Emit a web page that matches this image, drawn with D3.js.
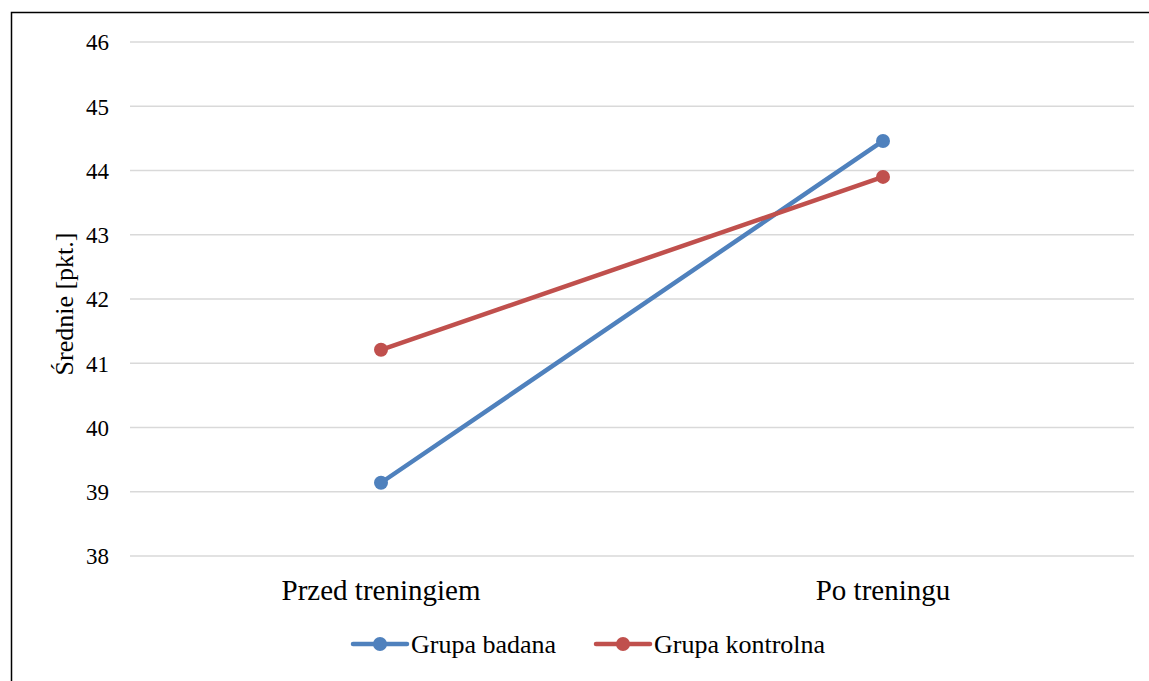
<!DOCTYPE html>
<html>
<head>
<meta charset="utf-8">
<script src="https://cdn.jsdelivr.net/npm/d3@7"></script>
<style>
  body { margin: 0; background: #fff; overflow: hidden; }
  svg { display: block; }
</style>
</head>
<body>
<svg id="chart" width="1149" height="681"></svg>
<script>
// chart data
const categories = ["Przed treningiem", "Po treningu"];
const seriesNames = ["Grupa badana", "Grupa kontrolna"];
const badana = [39.14, 44.46];
const kontrolna = [41.21, 43.9];
const yTicks = [38, 39, 40, 41, 42, 43, 44, 45, 46];
const colors = ["#4f81bd", "#c0504d"];

const FONT = '"Liberation Serif"';

const svg = d3.select("#chart");

// frame around the chart: only the left and top edges fall inside the picture
svg.append("path")
  .attr("d", "M11.5,681V12.5H1149")
  .attr("fill", "none").attr("stroke", "#000").attr("stroke-width", 1.5);

const plot = { left: 130, right: 1134, top: 42, bottom: 556 };

const x = d3.scaleBand().domain(categories).range([plot.left, plot.right]);
const y = d3.scaleLinear().domain([38, 46]).range([plot.bottom, plot.top]);

// gridlines
svg.append("g")
  .selectAll("line")
  .data(yTicks)
  .enter()
  .append("line")
  .attr("x1", plot.left).attr("x2", plot.right)
  .attr("y1", d => y(d)).attr("y2", d => y(d))
  .attr("stroke", "#d9d9d9").attr("stroke-width", 1.5);

// y axis labels
const yAxis = d3.axisLeft(y).tickValues(yTicks).tickSize(0).tickPadding(21);
svg.append("g")
  .attr("transform", `translate(${plot.left},0)`)
  .call(yAxis)
  .attr("font-family", null)
  .call(g => g.select(".domain").remove())
  .selectAll("text")
  .attr("dy", "0.34em")
  .style("font-family", FONT)
  .style("font-size", "23px")
  .style("fill", "#000");

// x axis labels
const xAxis = d3.axisBottom(x).tickSize(0).tickPadding(0);
svg.append("g")
  .attr("transform", `translate(0,${plot.bottom})`)
  .call(xAxis)
  .attr("font-family", null)
  .call(g => g.select(".domain").remove())
  .selectAll("text")
  .attr("y", 44).attr("dy", null)
  .style("font-family", FONT)
  .style("font-size", "29px")
  .style("fill", "#000");

// y axis title
svg.append("text")
  .attr("transform", "translate(73,304) rotate(-90)")
  .attr("text-anchor", "middle")
  .style("font-family", FONT)
  .style("font-size", "26px")
  .text("Średnie [pkt.]");

// series
const series = [badana, kontrolna];
const line = d3.line()
  .x((d, i) => x(categories[i]) + x.bandwidth() / 2)
  .y(d => y(d));

series.forEach((vals, s) => {
  svg.append("path")
    .datum(vals)
    .attr("d", line)
    .attr("fill", "none")
    .attr("stroke", colors[s])
    .attr("stroke-width", 4.5)
    .attr("stroke-linecap", "round");

  svg.append("g")
    .selectAll("circle")
    .data(vals)
    .enter()
    .append("circle")
    .attr("cx", (d, i) => x(categories[i]) + x.bandwidth() / 2)
    .attr("cy", d => y(d))
    .attr("r", 7)
    .attr("fill", colors[s]);
});

// legend
const legendX = [353, 596];
const legend = svg.append("g");
seriesNames.forEach((name, s) => {
  const g = legend.append("g").attr("transform", `translate(${legendX[s]},644)`);
  g.append("line")
    .attr("x1", 0).attr("x2", 54)
    .attr("stroke", colors[s]).attr("stroke-width", 4.5)
    .attr("stroke-linecap", "round");
  g.append("circle").attr("cx", 27).attr("r", 7).attr("fill", colors[s]);
  g.append("text")
    .attr("x", 58).attr("y", 9)
    .style("font-family", FONT)
    .style("font-size", "26px")
    .text(name);
});
</script>
</body>
</html>
